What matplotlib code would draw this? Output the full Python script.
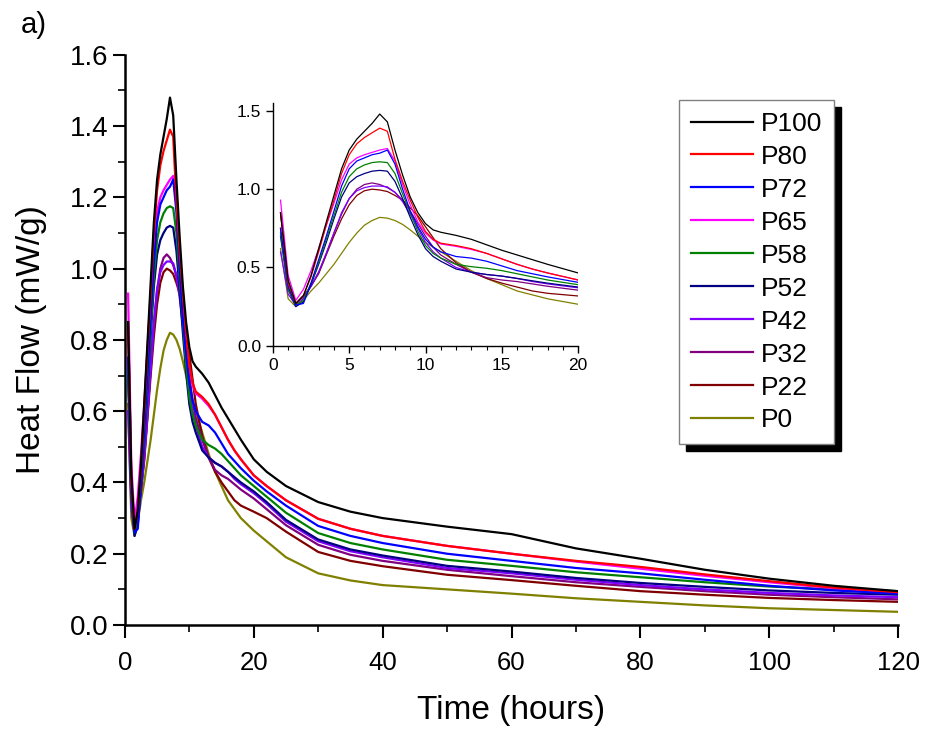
import numpy as np
import matplotlib
matplotlib.use("Agg")
import matplotlib.pyplot as plt
from matplotlib.ticker import MultipleLocator, FormatStrFormatter

plt.rcParams['font.family'] = ['Liberation Sans', 'DejaVu Sans']

# ---- data ----
time_h = [0.5, 1, 1.5, 2, 2.5, 3, 3.5, 4, 4.5, 5,
          5.5, 6, 6.5, 7, 7.5, 8, 8.5, 9, 9.5, 10,
          10.5, 11, 12, 13, 14, 15, 16, 17, 18, 20,
          22, 25, 30, 35, 40, 50, 60, 70, 80, 90,
          100, 110, 120]

P100 = [0.85, 0.42, 0.27, 0.32, 0.45, 0.62, 0.79, 0.96, 1.13, 1.25,
        1.32, 1.37, 1.42, 1.48, 1.43, 1.25, 1.09, 0.95, 0.85, 0.78,
        0.74, 0.725, 0.705, 0.68, 0.645, 0.61, 0.58, 0.55, 0.52, 0.465,
        0.43, 0.39, 0.345, 0.318, 0.30, 0.276, 0.255, 0.215, 0.186, 0.155,
        0.13, 0.11, 0.095]
P80 = [0.85, 0.40, 0.27, 0.32, 0.44, 0.60, 0.77, 0.93, 1.10, 1.22,
       1.29, 1.33, 1.36, 1.39, 1.37, 1.19, 1.05, 0.93, 0.82, 0.73,
       0.68, 0.655, 0.64, 0.62, 0.59, 0.555, 0.52, 0.49, 0.465, 0.42,
       0.39, 0.35, 0.298, 0.27, 0.25, 0.222, 0.20, 0.18, 0.163, 0.142,
       0.123, 0.105, 0.092]
P72 = [0.75, 0.38, 0.26, 0.27, 0.40, 0.55, 0.70, 0.86, 1.02, 1.13,
       1.18, 1.20, 1.22, 1.23, 1.25, 1.16, 1.0, 0.86, 0.76, 0.68,
       0.63, 0.60, 0.57, 0.56, 0.54, 0.51, 0.48, 0.46, 0.44, 0.405,
       0.375, 0.335, 0.278, 0.25, 0.23, 0.20, 0.18, 0.16, 0.145, 0.127,
       0.11, 0.097, 0.088]
P65 = [0.93, 0.45, 0.29, 0.36, 0.48, 0.62, 0.77, 0.91, 1.06, 1.16,
       1.20, 1.22, 1.235, 1.25, 1.26, 1.18, 1.03, 0.90, 0.79, 0.72,
       0.675, 0.65, 0.635, 0.615, 0.59, 0.555, 0.52, 0.49, 0.465, 0.42,
       0.39, 0.35, 0.298, 0.27, 0.25, 0.222, 0.20, 0.178, 0.158, 0.138,
       0.12, 0.103, 0.09]
P58 = [0.72, 0.36, 0.26, 0.29, 0.40, 0.53, 0.68, 0.83, 0.98, 1.08,
       1.13, 1.155, 1.17, 1.175, 1.17, 1.10, 0.97, 0.85, 0.73, 0.64,
       0.59, 0.56, 0.52, 0.505, 0.495, 0.48, 0.46, 0.44, 0.42, 0.39,
       0.36, 0.315, 0.258, 0.23, 0.212, 0.183, 0.166, 0.148, 0.134, 0.12,
       0.108, 0.10, 0.095]
P52 = [0.70, 0.36, 0.25, 0.28, 0.39, 0.52, 0.66, 0.81, 0.95, 1.04,
       1.08, 1.10, 1.115, 1.12, 1.115, 1.05, 0.94, 0.82, 0.71, 0.62,
       0.57, 0.54, 0.49, 0.47, 0.455, 0.445, 0.43, 0.415, 0.40, 0.375,
       0.345, 0.295, 0.24, 0.212, 0.195, 0.166, 0.15, 0.132, 0.118, 0.107,
       0.097, 0.09, 0.085]
P42 = [0.60, 0.33, 0.26, 0.30, 0.38, 0.47, 0.59, 0.72, 0.85, 0.94,
       0.99, 1.01, 1.02, 1.02, 1.015, 0.98, 0.92, 0.84, 0.75, 0.66,
       0.60, 0.56, 0.50, 0.47, 0.455, 0.445, 0.43, 0.41, 0.395, 0.37,
       0.34, 0.29, 0.235, 0.207, 0.19, 0.16, 0.145, 0.127, 0.112, 0.10,
       0.09, 0.083, 0.078]
P32 = [0.85, 0.40, 0.27, 0.31, 0.38, 0.47, 0.59, 0.72, 0.84, 0.94,
       1.0, 1.03, 1.04, 1.03, 1.01, 0.98, 0.93, 0.86, 0.78, 0.70,
       0.63, 0.58, 0.52, 0.47, 0.435, 0.42, 0.41, 0.395, 0.38, 0.355,
       0.325, 0.28, 0.225, 0.197, 0.18, 0.155, 0.137, 0.12, 0.107, 0.095,
       0.085, 0.078, 0.072]
P22 = [0.75, 0.37, 0.27, 0.32, 0.38, 0.46, 0.58, 0.70, 0.81, 0.90,
       0.96, 0.99, 1.0, 0.995, 0.985, 0.96, 0.93, 0.88, 0.83, 0.76,
       0.69, 0.62, 0.53, 0.47, 0.43, 0.40, 0.375, 0.35, 0.335, 0.318,
       0.30, 0.262, 0.205, 0.18, 0.165, 0.141, 0.126, 0.11, 0.095, 0.085,
       0.076, 0.07, 0.065]
P0 = [0.62, 0.30, 0.25, 0.29, 0.35, 0.40, 0.46, 0.52, 0.59, 0.66,
      0.72, 0.77, 0.80, 0.82, 0.815, 0.80, 0.775, 0.74, 0.70, 0.66,
      0.63, 0.60, 0.54, 0.48, 0.43, 0.39, 0.35, 0.325, 0.30, 0.265,
      0.235, 0.19, 0.145, 0.125, 0.112, 0.10, 0.088, 0.075, 0.065, 0.055,
      0.047, 0.042, 0.037]

labels = ["P100", "P80", "P72", "P65", "P58", "P52", "P42", "P32", "P22", "P0"]
series = [P100, P80, P72, P65, P58, P52, P42, P32, P22, P0]
colors = ["#000000", "#ff0000", "#0000ff", "#ff00ff", "#008000",
          "#000080", "#8000ff", "#800080", "#800000", "#808000"]

# ---- figure ----
fig = plt.figure(figsize=(9.25, 7.31), dpi=100)
ax = fig.add_axes([0.135, 0.145, 0.836, 0.780])

for lab, y, c in reversed(list(zip(labels, series, colors))):
    ax.plot(time_h, y, color=c, lw=1.6, label=lab)

ax.set_xlim(0, 120)
ax.set_ylim(0, 1.6)
ax.xaxis.set_major_locator(MultipleLocator(20))
ax.xaxis.set_minor_locator(MultipleLocator(10))
ax.yaxis.set_major_locator(MultipleLocator(0.2))
ax.yaxis.set_minor_locator(MultipleLocator(0.1))
ax.yaxis.set_major_formatter(FormatStrFormatter('%.1f'))
for s in ["top", "right"]:
    ax.spines[s].set_visible(False)
for s in ["left", "bottom"]:
    ax.spines[s].set_linewidth(1.8)
ax.tick_params(which='major', direction='out', length=9, width=1.5)
ax.tick_params(which='minor', direction='out', length=5, width=1.2)
ax.tick_params(axis='y', which='major', labelsize=20, pad=3)
ax.tick_params(axis='x', which='major', labelsize=18.5, pad=10)
ax.set_xlabel("Time (hours)", fontsize=24, labelpad=14)
ax.set_ylabel("Heat Flow (mW/g)", fontsize=24, labelpad=16)

handles, labs = ax.get_legend_handles_labels()
leg = ax.legend(handles[::-1], labs[::-1], loc='upper left', bbox_to_anchor=(0.717, 0.921),
                borderaxespad=0, fontsize=19, handlelength=2.35, handletextpad=0.3,
                labelspacing=0.34, borderpad=0.45, fancybox=False, framealpha=1,
                edgecolor='#808080',
                shadow={'ox': 5, 'oy': -5, 'color': 'black', 'alpha': 1})
leg.get_frame().set_linewidth(1.0)

fig.text(0.022, 0.955, "a)", fontsize=21)

# ---- inset ----
axin = fig.add_axes([0.295, 0.527, 0.330, 0.332])
for lab, y, c in reversed(list(zip(labels, series, colors))):
    axin.plot(time_h, y, color=c, lw=0.9)
axin.set_xlim(0, 20)
axin.set_ylim(0, 1.55)
axin.xaxis.set_major_locator(MultipleLocator(5))
axin.xaxis.set_minor_locator(MultipleLocator(1))
axin.yaxis.set_major_locator(MultipleLocator(0.5))
axin.yaxis.set_major_formatter(FormatStrFormatter('%.1f'))
for s in ["top", "right"]:
    axin.spines[s].set_visible(False)
for s in ["left", "bottom"]:
    axin.spines[s].set_linewidth(1.0)
axin.tick_params(which='major', direction='out', length=5, width=1.0, labelsize=12.5)
axin.tick_params(which='minor', direction='out', length=3, width=0.8)

fig.savefig("out.png", dpi=100)
